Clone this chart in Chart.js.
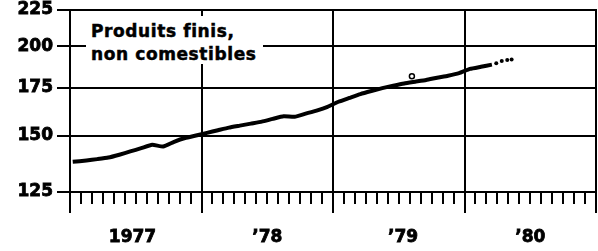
<!DOCTYPE html>
<html><head><meta charset="utf-8">
<script src="https://cdn.jsdelivr.net/npm/chart.js@4"></script>
<style>
html,body{margin:0;padding:0;background:#fff;overflow:hidden;}
#wrap{position:relative;width:598px;height:251px;overflow:hidden;}
#c{display:block;}
#lbl{position:absolute;left:86px;top:16px;width:172px;height:44px;background:#fff;padding:4px 0 0 5px;font-family:'DejaVu Sans';font-weight:bold;font-size:17px;letter-spacing:0.6px;line-height:23px;color:#000;white-space:nowrap;-webkit-text-stroke:0.5px #000;}
</style></head><body>
<div id="wrap"><canvas id="c" width="598" height="251"></canvas><div id="lbl">Produits finis,<br>non comestibles</div></div>
<script>
// months since Jan 1977 (x position), index values
const monthPos = [0.25,1.5,2.5,3.5,4.5,5.5,6.5,7.5,8.5,9.5,10.5,11.5,
  12.5,13.5,14.5,15.5,16.5,17.5,18.5,19.5,20.5,21.5,22.5,23.5,
  24.5,25.5,26.5,27.5,28.5,29.5,30.5,31.5,32.5,33.5,34.5,35.5,
  36.5,37.5,38.5];
const values = [137.8,138.4,139.0,139.7,141.0,142.5,144.0,145.6,144.8,147.0,148.8,150.0,
  151.3,152.6,153.9,154.9,155.9,156.9,158.3,159.6,159.4,161.0,162.6,164.6,
  167.3,169.4,171.5,173.2,174.8,176.2,177.5,178.5,179.5,180.8,182.0,183.5,
  186.0,187.3,188.6];
const outlierPos = [31.2];
const outlierVal = [181.6];
const tailPos = [38.9,39.4,39.9,40.3];
const tailVal = [189.4,190.8,191.5,191.8];
const yTicks = [125,150,175,200,225];
const yearBounds = [0,12,24,36,48];
const yearLabelPos = [5.7,18,30.4,42];
const yearLabels = ['1977','\u201978','\u201979','\u201980'];

const pts = (xs, ys) => xs.map((x,i)=>({x:x,y:ys[i]}));
Chart.defaults.font.family = "'DejaVu Sans'";
Chart.defaults.font.weight = 'bold';
const BLACK = '#000';
const tickFont = { family: "'DejaVu Sans'", size: 17, weight: 'bold' };
const noPad = s => { s.paddingLeft = 0; s.paddingRight = 0; s.paddingTop = 0; s.paddingBottom = 0; };
new Chart(document.getElementById('c'), {
  type: 'line',
  data: { datasets: [
    { data: pts(monthPos, values), borderColor: BLACK, borderWidth: 4, pointRadius: 0, tension: 0.15, fill: false },
    { data: pts(outlierPos, outlierVal), showLine: false, pointRadius: 2.5, pointBorderWidth: 1.5, pointBorderColor: BLACK, pointBackgroundColor: '#fff' },
    { data: pts(tailPos, tailVal), showLine: false, pointRadius: 2, pointBorderWidth: 0, pointBackgroundColor: BLACK }
  ]},
  options: {
    responsive: false, animation: false, devicePixelRatio: 1,
    layout: { autoPadding: false, padding: { top: 10, right: 2, left: 0, bottom: 0 } },
    plugins: { legend: { display: false }, tooltip: { enabled: false } },
    scales: {
      x: {
        type: 'linear', position: 'bottom', min: 0, max: 48,
        afterBuildTicks: s => { s.ticks = yearBounds.concat(yearLabelPos).sort((a,b)=>a-b).map(v=>({value:v})); },
        afterFit: s => { s.height = 59; noPad(s); },
        grid: {
          color: c => yearBounds.includes(c.tick.value) ? BLACK : 'rgba(0,0,0,0)',
          tickColor: c => yearBounds.includes(c.tick.value) ? BLACK : 'rgba(0,0,0,0)',
          lineWidth: 2, tickLength: 21, tickWidth: 2
        },
        border: { display: true, color: BLACK, width: 2 },
        ticks: {
          autoSkip: false, maxRotation: 0, padding: 14, color: BLACK,
          font: tickFont, textStrokeColor: BLACK, textStrokeWidth: 0.8,
          callback: v => { const i = yearLabelPos.indexOf(v); return i >= 0 ? yearLabels[i] : ''; }
        }
      },
      xm: {
        type: 'linear', position: { y: 125 }, min: 0, max: 48,
        afterBuildTicks: s => { const t = []; for (let m = 0; m <= 48; m++) t.push({value: m}); s.ticks = t; },
        afterFit: noPad,
        grid: { drawOnChartArea: false, tickLength: 12, tickColor: BLACK, tickWidth: 2, lineWidth: 2 },
        border: { display: false },
        ticks: { display: false }
      },
      y: {
        type: 'logarithmic', position: 'left', min: 125, max: 225,
        afterBuildTicks: s => { s.ticks = yTicks.map(v=>({value:v})); },
        afterFit: s => { s.width = 70; noPad(s); },
        grid: { color: BLACK, lineWidth: 2, tickLength: 13, tickWidth: 2 },
        border: { display: true, color: BLACK, width: 2 },
        ticks: { color: BLACK, padding: 4, font: tickFont, textStrokeColor: BLACK, textStrokeWidth: 0.8, callback: v => String(v) }
      },
      yr: {
        type: 'logarithmic', position: 'right', min: 125, max: 225,
        afterFit: s => { s.width = 0; noPad(s); },
        grid: { drawOnChartArea: false, drawTicks: false },
        border: { display: true, color: BLACK, width: 2 },
        ticks: { display: false }
      }
    }
  }
});
</script>
</body></html>
